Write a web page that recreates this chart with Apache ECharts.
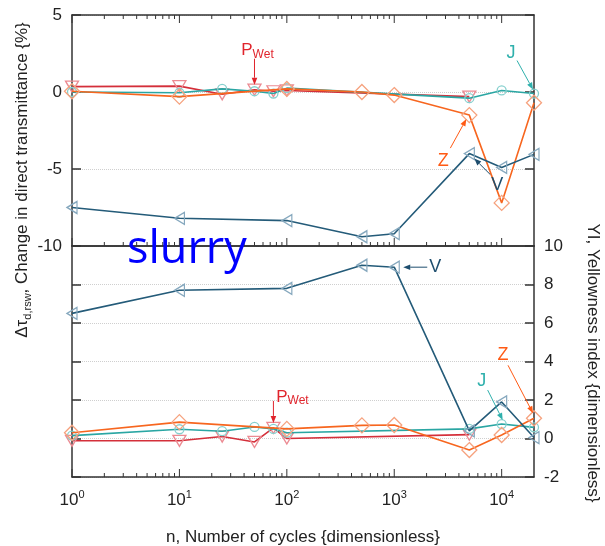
<!DOCTYPE html>
<html>
<head>
<meta charset="utf-8">
<script src="https://cdn.jsdelivr.net/npm/echarts@6/dist/echarts.min.js"></script>
<style>
  html, body { margin: 0; padding: 0; background: #ffffff; }
  #c { width: 605px; height: 546px; }
</style>
</head>
<body>
<div id="c"></div>
<script>
// Number of cycles at which each sample was measured
const N_VZ = [1, 10, 100, 500, 1000, 5000, 10000, 20000];
const N_J  = [1, 10, 25, 50, 75, 100, 5000, 10000, 20000];
const N_P  = [1, 10, 25, 50, 75, 100, 5000];

// Change in direct transmittance, %
const V_TAU = [-7.5, -8.2, -8.35, -9.4, -9.2, -4.0, -4.9, -4.05];
const Z_TAU = [0.05, -0.3, 0.2, 0.0, -0.2, -1.5, -7.2, -0.7];
const J_TAU = [0.0, -0.05, 0.2, 0.05, -0.1, 0.25, -0.4, 0.1, -0.1];
const P_TAU = [0.35, 0.38, -0.15, 0.15, 0.05, 0.1, -0.3];

// Yellowness index
const V_YI = [6.5, 7.7, 7.8, 9.0, 8.9, 0.4, 1.9, 0.05];
const Z_YI = [0.3, 0.85, 0.5, 0.68, 0.7, -0.6, 0.18, 1.05];
const J_YI = [0.15, 0.48, 0.38, 0.6, 0.5, 0.3, 0.5, 0.75, 0.58];
const P_YI = [-0.12, -0.12, 0.1, -0.18, 0.55, 0.0, 0.2];

// Axis ranges and ticks
const X_RANGE = [1, 20000];
const TAU_RANGE = [-10, 5], TAU_STEP = 5;
const YI_RANGE = [-2, 10], YI_STEP = 2;
const DECADES = [1, 10, 100, 1000, 10000];
const MINOR_MULTIPLES = [2, 3, 4, 5, 6, 7, 8, 9];

const FONT = '"Liberation Sans", Arial, Helvetica, sans-serif';
const INK = '#333333';
const TEXT = '#222222';

const STYLE = {
  P: { symbol: 'triangle', rotate: 180, size: [13, 11], line: '#d42f3a', marker: '#ec8a92', z: 2 },
  J: { symbol: 'circle', rotate: 0, size: 9, line: '#2aa6a3', marker: '#86d0ce', z: 3 },
  Z: { symbol: 'diamond', rotate: 0, size: [15, 15], line: '#f7661f', marker: '#f6a27e', z: 4 },
  V: { symbol: 'triangle', rotate: 90, size: [12, 10], line: '#245b79', marker: '#86a8be', z: 5 }
};

const chart = echarts.init(document.getElementById('c'), null, { renderer: 'canvas' });

function pairs(xs, ys) { return xs.map((x, i) => [x, ys[i]]); }

function lineSeries(name, xs, ys, panel, st) {
  const ax = panel === 0 ? 0 : 2;
  return {
    name: name, type: 'line', xAxisIndex: ax, yAxisIndex: ax,
    data: pairs(xs, ys),
    symbol: st.symbol, symbolSize: st.size, symbolRotate: st.rotate, showAllSymbol: true,
    lineStyle: { color: st.line, width: 1.6 },
    itemStyle: { color: 'rgba(255,255,255,0)', borderColor: st.marker, borderWidth: 1.3 },
    emphasis: { disabled: true }, animation: false, z: st.z
  };
}

// Log-axis tick positions: one major per decade, minors at 2..9 x decade
const TICKS = [];
DECADES.forEach(d => {
  TICKS.push([d, 1]);
  MINOR_MULTIPLES.forEach(m => { if (m * d < X_RANGE[1]) TICKS.push([m * d, 0]); });
});

function tickSeries(axisIndex, edges) {
  return {
    type: 'custom', xAxisIndex: axisIndex, yAxisIndex: axisIndex, silent: true, animation: false, z: 1,
    data: TICKS,
    renderItem: function (params, api) {
      const cs = params.coordSys;
      const x = api.coord([api.value(0), 0])[0];
      const len = api.value(1) ? 8 : 4;
      const kids = [];
      if (edges.indexOf('top') >= 0) kids.push({ type: 'line', shape: { x1: x, y1: cs.y, x2: x, y2: cs.y + len }, style: { stroke: INK, lineWidth: 1 } });
      if (edges.indexOf('bottom') >= 0) kids.push({ type: 'line', shape: { x1: x, y1: cs.y + cs.height, x2: x, y2: cs.y + cs.height - len }, style: { stroke: INK, lineWidth: 1 } });
      return { type: 'group', children: kids };
    }
  };
}

function xAxis(grid, pos, labels) {
  return {
    gridIndex: grid, type: 'log', logBase: 10, min: X_RANGE[0], max: X_RANGE[1], position: pos,
    axisLine: { show: true, onZero: false, lineStyle: { color: INK, width: 1.5 } },
    axisTick: { show: false }, splitLine: { show: false }, minorTick: { show: false },
    axisLabel: labels ? {
      show: true, margin: 12, showMaxLabel: false,
      formatter: function (v) {
        const e = Math.log10(v);
        if (Math.abs(e - Math.round(e)) > 1e-6) return '';
        return '{b|10}{s|' + Math.round(e) + '}';
      },
      rich: {
        b: { fontFamily: FONT, fontSize: 17, color: TEXT, lineHeight: 22 },
        s: { fontFamily: FONT, fontSize: 11, color: TEXT, verticalAlign: 'top', lineHeight: 12 }
      }
    } : { show: false }
  };
}

function yAxis(grid, pos, range, step, labels, split) {
  return {
    gridIndex: grid, type: 'value', min: range[0], max: range[1], interval: step, position: pos,
    axisLine: { show: true, onZero: false, lineStyle: { color: INK, width: 1.5 } },
    axisTick: { show: true, inside: true, length: 9, lineStyle: { color: INK, width: 1.5 } },
    axisLabel: labels ? { show: true, margin: 10, fontFamily: FONT, fontSize: 17, color: TEXT } : { show: false },
    splitLine: { show: split, lineStyle: { type: 'dotted', color: '#cfcfcf', width: 1 } }
  };
}

const option = {
  backgroundColor: '#ffffff',
  animation: false,
  grid: [
    { left: 72, top: 15, width: 462, height: 231 },
    { left: 72, top: 246, width: 462, height: 231 }
  ],
  xAxis: [
    xAxis(0, 'bottom', false),
    xAxis(0, 'top', false),
    xAxis(1, 'bottom', true),
    xAxis(1, 'top', false)
  ],
  yAxis: [
    yAxis(0, 'left', TAU_RANGE, TAU_STEP, true, true),
    yAxis(0, 'right', TAU_RANGE, TAU_STEP, false, false),
    yAxis(1, 'right', YI_RANGE, YI_STEP, true, true),
    yAxis(1, 'left', YI_RANGE, YI_STEP, false, false)
  ],
  series: [
    lineSeries('P_Wet', N_P, P_TAU, 0, STYLE.P),   // 0
    lineSeries('J', N_J, J_TAU, 0, STYLE.J),       // 1
    lineSeries('Z', N_VZ, Z_TAU, 0, STYLE.Z),      // 2
    lineSeries('V', N_VZ, V_TAU, 0, STYLE.V),      // 3
    lineSeries('P_Wet', N_P, P_YI, 1, STYLE.P),    // 4
    lineSeries('J', N_J, J_YI, 1, STYLE.J),        // 5
    lineSeries('Z', N_VZ, Z_YI, 1, STYLE.Z),       // 6
    lineSeries('V', N_VZ, V_YI, 1, STYLE.V),       // 7
    tickSeries(0, ['top', 'bottom']),
    tickSeries(2, ['bottom'])
  ]
};
chart.setOption(option);

// Series labels with arrows, placed relative to the data point they name
const NOTES = [
  { s: 0, pt: [N_P[3], P_TAU[3]], text: '{p|P}{w|Wet}', color: '#e0242c', head: [0, -5], tail: [0, -31], label: [3, -39] },
  { s: 1, pt: [N_J[8], J_TAU[8]], text: 'J', color: '#2fb0ac', head: [-1, -4], tail: [-17, -33], label: [-23, -41] },
  { s: 2, pt: [N_VZ[5], Z_TAU[5]], text: 'Z', color: '#ff5a14', head: [-3, 4], tail: [-19, 33], label: [-26, 46] },
  { s: 3, pt: [N_VZ[5], V_TAU[5]], text: 'V', color: '#1e4e6e', head: [5, 5], tail: [21, 21], label: [28, 31] },
  { s: 7, pt: [N_VZ[4], V_YI[4]], text: 'V', color: '#1e4e6e', head: [9, 0], tail: [33, 0], label: [41, 0] },
  { s: 4, pt: [N_P[4], P_YI[4]], text: '{p|P}{w|Wet}', color: '#e0242c', head: [0, -5], tail: [0, -27], label: [19, -31] },
  { s: 5, pt: [N_J[7], J_YI[7]], text: 'J', color: '#2fb0ac', head: [1, -4], tail: [-14, -34], label: [-20, -43] },
  { s: 6, pt: [N_VZ[7], Z_YI[7]], text: 'Z', color: '#ff5a14', head: [-1, -5], tail: [-26, -53], label: [-31, -63] }
];

const graphics = [];
NOTES.forEach(n => {
  const p = chart.convertToPixel({ seriesIndex: n.s }, n.pt);
  const hx = p[0] + n.head[0], hy = p[1] + n.head[1];
  const tx = p[0] + n.tail[0], ty = p[1] + n.tail[1];
  const dx = hx - tx, dy = hy - ty, L = Math.sqrt(dx * dx + dy * dy);
  const ux = dx / L, uy = dy / L, al = 7, aw = 2.8;
  const bx = hx - ux * al, by = hy - uy * al;
  graphics.push({ type: 'line', silent: true, z: 20, shape: { x1: tx, y1: ty, x2: bx, y2: by }, style: { stroke: n.color, lineWidth: 1 } });
  graphics.push({ type: 'polygon', silent: true, z: 20, shape: { points: [[hx, hy], [bx - uy * aw, by + ux * aw], [bx + uy * aw, by - ux * aw]] }, style: { fill: n.color } });
  graphics.push({
    type: 'text', silent: true, z: 21, x: p[0] + n.label[0], y: p[1] + n.label[1],
    style: {
      text: n.text, align: 'center', verticalAlign: 'middle', fill: n.color, fontFamily: FONT, fontSize: 18,
      rich: {
        p: { fontFamily: FONT, fontSize: 17, fill: n.color, lineHeight: 20 },
        w: { fontFamily: FONT, fontSize: 12, fill: n.color, verticalAlign: 'bottom', lineHeight: 12 }
      }
    }
  });
});

// Axis titles and panel caption
graphics.push({
  type: 'text', silent: true, x: 22, y: 180, rotation: Math.PI / 2,
  style: {
    text: '{a|\u0394\u03c4}{s|d,rsw}, Change in direct transmittance {%}',
    align: 'center', verticalAlign: 'middle', fill: TEXT, fontFamily: FONT, fontSize: 17,
    rich: {
      a: { fontFamily: FONT, fontSize: 17, fill: TEXT, lineHeight: 22 },
      s: { fontFamily: FONT, fontSize: 11, fill: TEXT, verticalAlign: 'bottom', lineHeight: 11 }
    }
  }
});
graphics.push({
  type: 'text', silent: true, x: 593, y: 363, rotation: -Math.PI / 2,
  style: { text: 'YI, Yellowness index {dimensionless}', align: 'center', verticalAlign: 'middle', fill: TEXT, fontFamily: FONT, fontSize: 17 }
});
graphics.push({
  type: 'text', silent: true, x: 303, y: 537,
  style: { text: 'n, Number of cycles {dimensionless}', align: 'center', verticalAlign: 'middle', fill: TEXT, fontFamily: FONT, fontSize: 17 }
});
graphics.push({
  type: 'text', silent: true, z: 30, x: 127, y: 250,
  style: { text: 'slurry', align: 'left', verticalAlign: 'middle', fill: '#0000ff', fontFamily: '"Open Sans", "Noto Sans", sans-serif', fontSize: 45 }
});

chart.setOption({ graphic: graphics });
</script>
</body>
</html>
